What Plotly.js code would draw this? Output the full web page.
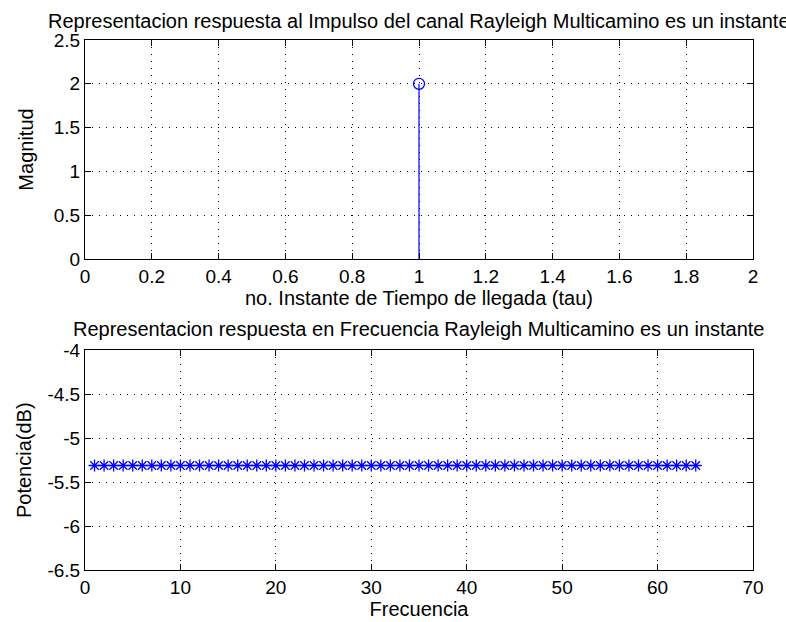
<!DOCTYPE html>
<html><head><meta charset="utf-8">
<script src="https://cdn.plot.ly/plotly-3.0.1.min.js"></script>
<style>html,body{margin:0;padding:0;background:#fff;overflow:hidden}#c{width:786px;height:622px}</style>
</head><body><div id="c"></div>
<script>
const tau = [1];
const magnitude = [2];
const freqIdx = [];
for (let i = 1; i <= 64; i++) freqIdx.push(i);
const powerDb = [-5.31,-5.31,-5.31,-5.31,-5.31,-5.31,-5.31,-5.31,-5.31,-5.31,-5.31,-5.31,-5.31,-5.31,-5.31,-5.31,
 -5.31,-5.31,-5.31,-5.31,-5.31,-5.31,-5.31,-5.31,-5.31,-5.31,-5.31,-5.31,-5.31,-5.31,-5.31,-5.31,
 -5.31,-5.31,-5.31,-5.31,-5.31,-5.31,-5.31,-5.31,-5.31,-5.31,-5.31,-5.31,-5.31,-5.31,-5.31,-5.31,
 -5.31,-5.31,-5.31,-5.31,-5.31,-5.31,-5.31,-5.31,-5.31,-5.31,-5.31,-5.31,-5.31,-5.31,-5.31,-5.31];
const yTicks1 = [0, 0.5, 1, 1.5, 2, 2.5];
const yTickText1 = ['0', '0.5', '1', '1.5', '2', '2.5'];
const yTicks2 = [-6.5, -6, -5.5, -5, -4.5, -4];
const yTickText2 = ['-6.5', '-6', '-5.5', '-5', '-4.5', '-4'];
const title1 = "Representacion respuesta al Impulso del canal Rayleigh Multicamino es un instante";
const title2 = "Representacion respuesta en Frecuencia Rayleigh Multicamino es un instante";

const stemX = [], stemY = [];
tau.forEach((t, i) => { stemX.push(t, t, null); stemY.push(0, magnitude[i], null); });

const blue = '#0000ff';
const F = {family: 'Liberation Sans, Arial, sans-serif', size: 20, color: '#000'};
const FT = {family: 'Liberation Sans, Arial, sans-serif', size: 19, color: '#000'};
const axBase = {
  showline: true, linecolor: '#000', linewidth: 1, mirror: 'ticks',
  ticks: 'inside', ticklen: 6, tickcolor: '#000',
  showgrid: true, gridcolor: '#000', griddash: '1px,6px', gridwidth: 1,
  zeroline: false, tickfont: FT
};
const traces = [
  {x: stemX, y: stemY, mode: 'lines', line: {color: blue, width: 1.2}, xaxis: 'x', yaxis: 'y', hoverinfo: 'none'},
  {x: tau, y: magnitude, mode: 'markers', marker: {symbol: 'circle-open', size: 11, color: blue, line: {width: 1.3, color: blue}}, xaxis: 'x', yaxis: 'y'},
  {x: freqIdx, y: powerDb, mode: 'lines+markers', line: {color: blue, width: 1.2},
   marker: {symbol: 'asterisk-open', size: 10, color: blue, line: {width: 1.3, color: blue}}, xaxis: 'x2', yaxis: 'y2'}
];
const layout = {
  width: 786, height: 622, showlegend: false,
  paper_bgcolor: '#fff', plot_bgcolor: '#fff',
  margin: {l: 85, r: 33, t: 40, b: 52},
  font: F,
  xaxis: Object.assign({}, axBase, {range: [0, 2], dtick: 0.2, anchor: 'y', domain: [0, 1],
    title: {text: 'no. Instante de Tiempo de llegada (tau)', font: F, standoff: 2}}),
  yaxis: Object.assign({}, axBase, {range: [0, 2.5], tickvals: yTicks1, ticktext: yTickText1, anchor: 'x', domain: [0.5868, 1],
    title: {text: 'Magnitud', font: F, standoff: 14}}),
  xaxis2: Object.assign({}, axBase, {range: [0, 70], dtick: 10, anchor: 'y2', domain: [0, 1],
    title: {text: 'Frecuencia', font: F, standoff: 2}}),
  yaxis2: Object.assign({}, axBase, {range: [-6.5, -4], tickvals: yTicks2, ticktext: yTickText2, anchor: 'x2', domain: [0, 0.4142],
    title: {text: 'Potencia(dB)', font: F, standoff: 10}}),
  annotations: [
    {text: title1, xref: 'paper', yref: 'paper', x: 0.5, y: 1, yshift: 6, xanchor: 'center', yanchor: 'bottom', showarrow: false, font: F},
    {text: title2, xref: 'paper', yref: 'paper', x: 0.5, y: 0.4142, yshift: 8, xanchor: 'center', yanchor: 'bottom', showarrow: false, font: F}
  ]
};
Plotly.newPlot('c', traces, layout, {staticPlot: true, displayModeBar: false});
</script></body></html>
